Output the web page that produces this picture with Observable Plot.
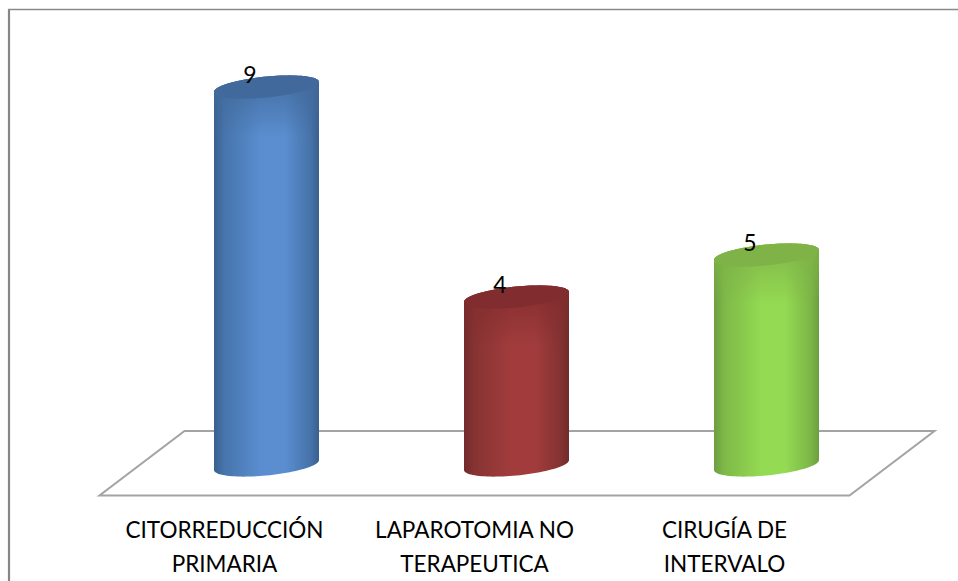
<!DOCTYPE html>
<html lang="es">
<head>
<meta charset="utf-8">
<title>Tipo de cirugía</title>
<script src="https://cdn.jsdelivr.net/npm/d3@7"></script>
<script src="https://cdn.jsdelivr.net/npm/@observablehq/plot@0.6"></script>
<style>
  html, body { margin: 0; padding: 0; background: #fff; }
  svg { display: block; }
</style>
</head>
<body>
<div id="chart"></div>
<script>
// Number of patients by type of surgery
const categories = ["CITORREDUCCIÓN PRIMARIA", "LAPAROTOMIA NO TERAPEUTICA", "CIRUGÍA DE INTERVALO"];
const axisLabels = ["CITORREDUCCIÓN\nPRIMARIA", "LAPAROTOMIA NO\nTERAPEUTICA", "CIRUGÍA DE\nINTERVALO"];
const counts = [9, 4, 5];

// Cylinder shading per series: side edge, side centre, top face
const edgeColors = ["#38608f", "#702b2c", "#6c9e40"];
const centerColors = ["#5a8ed0", "#a23c3c", "#94da52"];
const topColors = ["#41699b", "#812c2e", "#7fb348"];

const rows = categories.map((category, i) => ({category, count: counts[i], i}));
const labelOf = new Map(categories.map((c, i) => [c, axisLabels[i]]));

// Outer chart border and the slanted floor the cylinders stand on
function floorAndBorder(index, {x, y}, values, {width, height}) {
  const g = d3.create("svg:g");
  g.append("path")
    .attr("d", `M9,${height + 5}V9`)
    .attr("fill", "none").attr("stroke", "#868686").attr("stroke-width", 2.2);
  g.append("path")
    .attr("d", `M8,9.5H${width + 5}`)
    .attr("fill", "none").attr("stroke", "#8a8a8a").attr("stroke-width", 1.6);
  const [x0, x1] = x.range();
  const base = y(0);
  const floor = [[x0 - 41.5, base + 30.5], [x1 - 41.5, base + 30.5], [x1 + 43.5, base - 34], [x0 + 43.5, base - 34]];
  g.append("path")
    .attr("d", d3.line()(floor) + "Z")
    .attr("fill", "#fff").attr("stroke", "#a3a3a3").attr("stroke-width", 2);
  return g.node();
}

// Tilted cylinder for each category, from the x and y scales
function cylinders(index, {x, y}) {
  const g = d3.create("svg:g");
  const defs = g.append("defs");
  const a = x.bandwidth() / 2;
  const tilt = 5, b = 10.5;
  const rim = (cx, cy, from, to) => d3.range(0, 49).map(k => {
    const t = from + (to - from) * k / 48;
    return [cx + a * Math.cos(t), cy + b * Math.sin(t) - tilt * Math.cos(t)];
  });
  for (const {category, count, i} of rows) {
    const cx = x(category) + a;
    const yTop = y(count), yBase = y(0);
    const mix = d3.interpolateRgb(edgeColors[i], centerColors[i]);
    const side = defs.append("linearGradient").attr("id", `side${i}`);
    [[0, mix(0)], [0.1, mix(0.45)], [0.45, mix(1)], [0.68, mix(1)], [0.92, mix(0.4)], [1, mix(0)]].forEach(([o, c]) =>
      side.append("stop").attr("offset", o).attr("stop-color", c));
    const shade = defs.append("linearGradient").attr("id", `shade${i}`)
      .attr("gradientUnits", "userSpaceOnUse")
      .attr("x1", 0).attr("x2", 0).attr("y1", yTop).attr("y2", yTop + 50);
    shade.append("stop").attr("offset", 0).attr("stop-color", topColors[i]).attr("stop-opacity", 0.75);
    shade.append("stop").attr("offset", 1).attr("stop-color", topColors[i]).attr("stop-opacity", 0);
    const body = [...rim(cx, yBase, Math.PI, 0), ...rim(cx, yTop, 0, -Math.PI)];
    const bodyPath = d3.line()(body) + "Z";
    g.append("path").attr("d", bodyPath).attr("fill", `url(#side${i})`);
    g.append("path").attr("d", bodyPath).attr("fill", `url(#shade${i})`);
    g.append("path").attr("d", d3.line()(rim(cx, yTop, 0, 2 * Math.PI)) + "Z").attr("fill", topColors[i]);
  }
  return g.node();
}

const chart = Plot.plot({
  width: 958,
  height: 581,
  marginLeft: 141,
  marginRight: 67,
  marginTop: 45,
  marginBottom: 116,
  style: {background: "#fff", overflow: "hidden"},
  x: {type: "band", domain: categories, paddingInner: 0.58, paddingOuter: 0.29, label: null},
  y: {domain: [0, 10], label: null, axis: null},
  marks: [
    floorAndBorder,
    cylinders,
    Plot.axisX({
      anchor: "bottom",
      tickSize: 0,
      tickPadding: 0,
      dx: -42.5,
      dy: 48,
      lineHeight: 1.53,
      fontSize: 22.5,
      fontFamily: "Lato, 'Open Sans', sans-serif",
      fill: "#000",
      tickFormat: d => labelOf.get(d),
      label: null
    }),
    Plot.text(rows, {
      x: "category",
      y: "count",
      text: "count",
      dx: -17,
      dy: -12,
      fontSize: 23,
      fontFamily: "Lato, 'Open Sans', sans-serif",
      fill: "#000"
    })
  ]
});
document.getElementById("chart").append(chart);
</script>
</body>
</html>
